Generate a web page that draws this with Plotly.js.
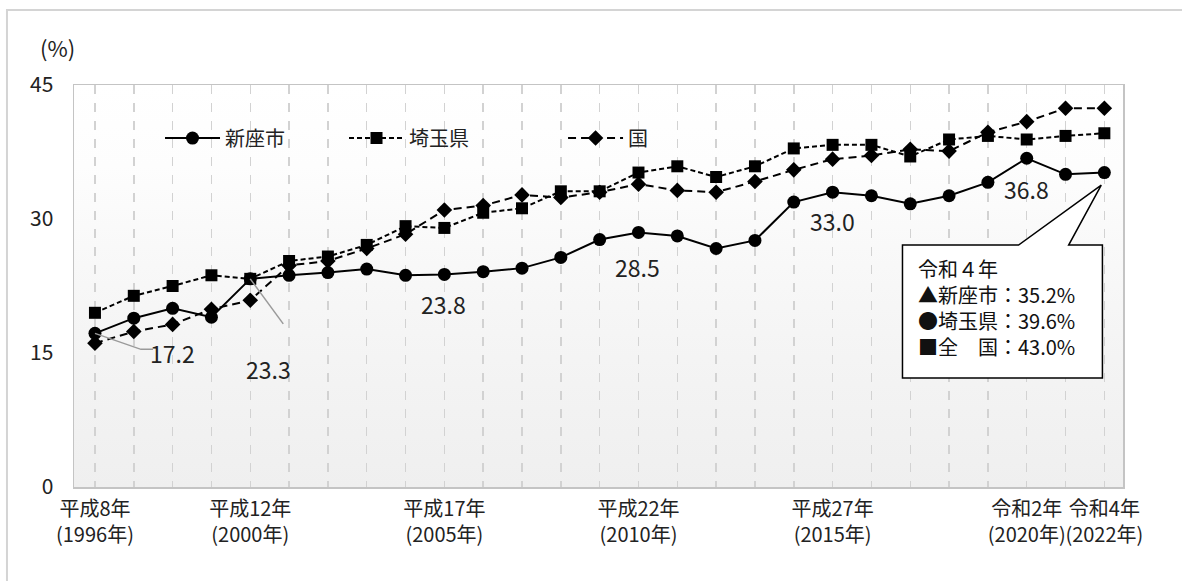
<!DOCTYPE html>
<html>
<head>
<meta charset="utf-8">
<script src="https://cdn.plot.ly/plotly-3.0.1.min.js"></script>
<style>
  html, body { margin:0; padding:0; background:#ffffff; }
  #wrap { position:relative; width:1182px; height:581px; }
  #bg { position:absolute; left:74px; top:85px; width:1049px; height:402px;
        background: linear-gradient(to bottom, #ffffff 0%, #fdfdfd 20%, #f6f6f6 55%, #efefef 100%); }
  #chart { position:absolute; left:0; top:0; width:1182px; height:581px; }
</style>
</head>
<body>
<div id="wrap"><div id="bg"></div><div id="chart"></div></div>
<script>
const years = [1996,1997,1998,1999,2000,2001,2002,2003,2004,2005,2006,2007,2008,2009,2010,2011,2012,2013,2014,2015,2016,2017,2018,2019,2020,2021,2022];
const niiza = [17.2,18.9,20.0,19.0,23.3,23.7,24.0,24.4,23.7,23.8,24.1,24.5,25.7,27.7,28.5,28.1,26.7,27.6,31.9,33.0,32.6,31.7,32.6,34.1,36.8,35.0,35.2];
const saitama = [19.5,21.4,22.5,23.7,23.3,25.3,25.8,27.1,29.2,29.0,30.7,31.2,33.1,33.1,35.2,35.9,34.7,35.9,37.9,38.3,38.3,37.0,38.9,39.3,38.9,39.3,39.6];
const kuni = [16.1,17.4,18.2,19.9,20.9,24.8,25.3,26.7,28.3,31.0,31.5,32.7,32.4,33.0,33.9,33.2,33.0,34.2,35.5,36.7,37.1,37.8,37.6,39.7,40.9,42.4,42.4];
const tickYears = [1996,2000,2005,2010,2015,2020,2022];
const tickLabels = ['平成8年<br>(1996年)','平成12年<br>(2000年)','平成17年<br>(2005年)','平成22年<br>(2010年)','平成27年<br>(2015年)','令和2年<br>(2020年)','令和4年<br>(2022年)'];
const yTicks = [0,15,30,45];
const seriesNames = ['新座市','埼玉県','国'];
const calloutText = '令和４年<br>▲新座市：35.2%<br>●埼玉県：39.6%<br>■全　国：43.0%';
const labelYears = [1996,2000,2005,2010,2015,2020];

const FONT = '"Noto Sans CJK JP", "Noto Sans", sans-serif';

const traces = [
  {x: years, y: niiza, name: seriesNames[0], type:'scatter', mode:'lines+markers',
   line:{color:'#000', width:2}, marker:{symbol:'circle', size:13, color:'#000'}, legend:'legend'},
  {x: years, y: saitama, name: seriesNames[1], type:'scatter', mode:'lines+markers',
   line:{color:'#000', width:2, dash:'5px,3px'}, marker:{symbol:'square', size:12, color:'#000'}, legend:'legend2'},
  {x: years, y: kuni, name: seriesNames[2], type:'scatter', mode:'lines+markers',
   line:{color:'#000', width:2, dash:'8px,5px'}, marker:{symbol:'diamond', size:12, color:'#000'}, legend:'legend3'}
];

const labelOffsets = {1996:[78,-20],2000:[18,-90],2005:[-1,-30],2010:[-1,-35],2015:[0,-29],2020:[0,-31]};
const annotations = labelYears.map(yr => {
  const i = years.indexOf(yr);
  return {x: yr, y: niiza[i], xref:'x', yref:'y', text: niiza[i].toFixed(1), showarrow:false,
          xshift: labelOffsets[yr][0], yshift: labelOffsets[yr][1],
          font:{family:FONT, size:23, color:'#222'}};
});
annotations.push({xref:'paper', yref:'paper', x:-0.0162, y:1.094, xanchor:'center', yanchor:'middle',
  text:'(%)', showarrow:false, font:{family:FONT, size:22, color:'#222'}});
annotations.push({xref:'x', yref:'y', x:2017.15, y:26.3, xanchor:'left', yanchor:'top', align:'left',
  text: calloutText, showarrow:false, font:{family:FONT, size:20, color:'#111'}});

const i96 = years.indexOf(1996), i00 = years.indexOf(2000);
const shapes = [
  {type:'path', xref:'paper', yref:'paper', path:'M -0.0639,-0.4 L -0.0639,1.1866 L 1.3,1.1866',
   line:{color:'#d4d4d4', width:2}},
  {type:'path', xref:'x', yref:'y', xsizemode:'pixel', ysizemode:'pixel', xanchor:1996, yanchor:niiza[i96],
   path:'M 0,0 L 46,-16 L 58,-16', line:{color:'#9a9a9a', width:1.5}},
  {type:'path', xref:'x', yref:'y', xsizemode:'pixel', ysizemode:'pixel', xanchor:2000, yanchor:niiza[i00],
   path:'M 0,0 L 33,-45', line:{color:'#9a9a9a', width:1.5}},
  {type:'path', xref:'x', yref:'y', layer:'above',
   path:'M 2016.8,12.2 L 2016.8,27.08 L 2019.79,27.08 L 2021.92,33.8 L 2021.08,27.08 L 2021.95,27.08 L 2021.95,12.2 Z',
   fillcolor:'#ffffff', line:{color:'#000', width:1.5}}
];

const legendBase = {orientation:'h', yanchor:'middle', y:0.868, xanchor:'left', bgcolor:'rgba(0,0,0,0)',
  font:{family:FONT, size:20, color:'#222'}, itemwidth:55, borderwidth:0};

const layout = {
  width:1182, height:581,
  margin:{l:74, r:59, t:85, b:94},
  paper_bgcolor:'rgba(0,0,0,0)', plot_bgcolor:'rgba(0,0,0,0)',
  font:{family:FONT, color:'#222'},
  showlegend:true,
  legend: Object.assign({}, legendBase, {x:0.082}),
  legend2: Object.assign({}, legendBase, {x:0.2574}),
  legend3: Object.assign({}, legendBase, {x:0.4662}),
  xaxis:{range:[1995.46,2022.48], tickmode:'array', tickvals: tickYears, ticktext: tickLabels, tickangle:0,
    showgrid:true, gridcolor:'#d2d2d2', griddash:'dash', gridwidth:1.5,
    minor:{tickmode:'linear', tick0:1996, dtick:1, showgrid:true, gridcolor:'#d2d2d2', griddash:'dash', gridwidth:1.5, ticks:''},
    showline:true, mirror:true, linecolor:'#c4c4c4', linewidth:1.5, zeroline:false,
    ticks:'', tickfont:{family:FONT, size:20, color:'#222'}, ticklabelstandoff:3, fixedrange:true},
  yaxis:{range:[0,45], tickvals:yTicks, showgrid:false, zeroline:false,
    showline:true, mirror:true, linecolor:'#c4c4c4', linewidth:1.5,
    ticks:'', tickfont:{family:FONT, size:21, color:'#222'}, ticklabelstandoff:15, fixedrange:true},
  annotations: annotations,
  shapes: shapes
};

Plotly.newPlot('chart', traces, layout, {displayModeBar:false, staticPlot:true});
</script>
</body>
</html>
